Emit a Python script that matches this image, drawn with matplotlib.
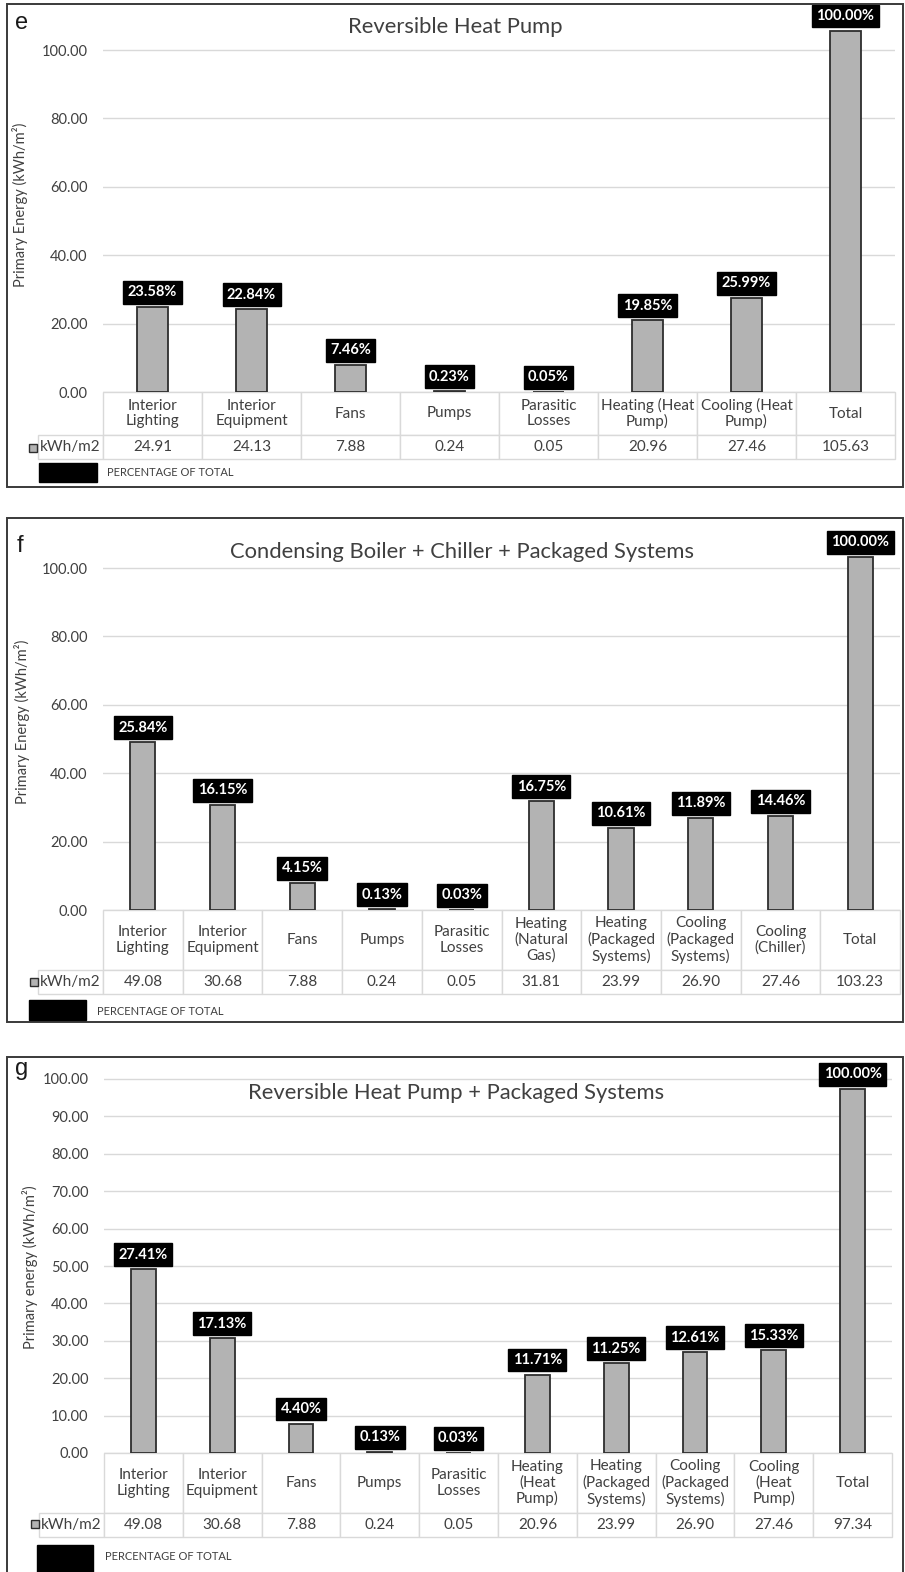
import matplotlib
matplotlib.use("Agg")
import matplotlib.pyplot as plt
from matplotlib.patches import Rectangle

plt.rcParams['font.family'] = ['Lato', 'DejaVu Sans']

# ---- data, panel e ----
e_title = "Reversible Heat Pump"
e_ylabel = "Primary Energy (kWh/m²)"
e_cats = ["Interior\nLighting", "Interior\nEquipment", "Fans", "Pumps", "Parasitic\nLosses",
          "Heating (Heat\nPump)", "Cooling (Heat\nPump)", "Total"]
e_vals = [24.91, 24.13, 7.88, 0.24, 0.05, 20.96, 27.46, 105.63]
e_pct = [23.58, 22.84, 7.46, 0.23, 0.05, 19.85, 25.99, 100.00]
e_ticks = [0, 20, 40, 60, 80, 100]

# ---- data, panel f ----
f_title = "Condensing Boiler + Chiller + Packaged Systems"
f_ylabel = "Primary Energy (kWh/m²)"
f_cats = ["Interior\nLighting", "Interior\nEquipment", "Fans", "Pumps", "Parasitic\nLosses",
          "Heating\n(Natural\nGas)", "Heating\n(Packaged\nSystems)", "Cooling\n(Packaged\nSystems)",
          "Cooling\n(Chiller)", "Total"]
f_vals = [49.08, 30.68, 7.88, 0.24, 0.05, 31.81, 23.99, 26.90, 27.46, 103.23]
f_pct = [25.84, 16.15, 4.15, 0.13, 0.03, 16.75, 10.61, 11.89, 14.46, 100.00]
f_ticks = [0, 20, 40, 60, 80, 100]

# ---- data, panel g ----
g_title = "Reversible Heat Pump + Packaged Systems"
g_ylabel = "Primary energy (kWh/m²)"
g_cats = ["Interior\nLighting", "Interior\nEquipment", "Fans", "Pumps", "Parasitic\nLosses",
          "Heating\n(Heat\nPump)", "Heating\n(Packaged\nSystems)", "Cooling\n(Packaged\nSystems)",
          "Cooling\n(Heat\nPump)", "Total"]
g_vals = [49.08, 30.68, 7.88, 0.24, 0.05, 20.96, 23.99, 26.90, 27.46, 97.34]
g_pct = [27.41, 17.13, 4.40, 0.13, 0.03, 11.71, 11.25, 12.61, 15.33, 100.00]
g_ticks = [0, 10, 20, 30, 40, 50, 60, 70, 80, 90, 100]

row_label = "kWh/m2"
legend_text = "PERCENTAGE OF TOTAL"

W, H = 905, 1572
fig = plt.figure(figsize=(W / 100, H / 100), dpi=100)

TXT = '#404040'
GRID = '#d9d9d9'


def fx(x):
    return x / W


def fy(y):
    return 1 - y / H


def frame(l, t, r, b):
    fig.add_artist(Rectangle((fx(l), fy(b)), fx(r - l), (b - t) / H, transform=fig.transFigure,
                             fill=False, ec='#3a3a3a', lw=1.4))


def panel(lay, letter, title, ylabel, cats, vals, pct, ticks):
    frame(*lay['frame'])
    y0, y100 = lay['y0'], lay['y100']
    sc = (y0 - y100) / 100.0
    top = y0 - lay['ymax'] * sc
    left, right = lay['x']
    ax = fig.add_axes([fx(left), fy(y0), fx(right - left), (y0 - top) / H])
    n = len(cats)
    x = list(range(n))
    ax.bar(x, vals, width=0.315, color='#b3b3b3', edgecolor='#2e2e2e', linewidth=1.3, zorder=3)
    ax.set_xlim(-0.5, n - 0.5)
    ax.set_ylim(0, lay['ymax'])
    ax.set_yticks(ticks)
    ax.set_yticklabels([f"{t:.2f}" for t in ticks])
    ax.tick_params(axis='y', length=0, pad=11, labelsize=10.5, labelcolor=TXT)
    ax.set_xticks([])
    ax.grid(axis='y', color=GRID, lw=1, zorder=0)
    for s in ax.spines.values():
        s.set_visible(False)

    for i, (v, p) in enumerate(zip(vals, pct)):
        ax.annotate(f"{p:.2f}%", xy=(i, v), xytext=(0, 5.5), textcoords='offset points',
                    ha='center', va='bottom', color='white', fontsize=10.5, fontweight='bold',
                    bbox=dict(boxstyle='square,pad=0.3', fc='black', ec='black'), zorder=5)

    # data table under the bars (bbox covers the data columns, row label hangs to the left)
    axh = y0 - top
    axw = right - left
    hh = lay['head'] / axh
    rh = lay['row'] / axh
    rlw = (left - lay['rl_left']) / axw
    tb = ax.table(cellText=[[f"{v:.2f}" for v in vals]], rowLabels=[row_label], colLabels=cats,
                  colWidths=[1.0 / n] * n, rowLoc='right', cellLoc='center', colLoc='center',
                  bbox=[0, -(hh + rh), 1, hh + rh])
    tb.auto_set_font_size(False)
    tb.set_fontsize(11)
    for (r, c), cell in tb.get_celld().items():
        cell.set_edgecolor(GRID)
        cell.set_linewidth(1)
        cell.get_text().set_color(TXT)
        if r == 0:
            cell.set_height(hh)
            cell.get_text().set_linespacing(1.12)
        else:
            cell.set_height(rh)
            cell.get_text().set_fontsize(11)
        if c == -1:
            cell.set_width(rlw)
            cell.PAD = 0.04

    # gray series swatch in the row label
    sx, sy = lay['swatch']
    fig.add_artist(Rectangle((fx(sx - 4), fy(sy + 4)), fx(8), 8 / H, transform=fig.transFigure,
                             fc='#b3b3b3', ec='#2e2e2e', lw=1))

    # legend for the percentage boxes
    bl, bt, br, bb = lay['legbox']
    fig.add_artist(Rectangle((fx(bl), fy(bb)), fx(br - bl), (bb - bt) / H, transform=fig.transFigure,
                             fc='black', ec='black'))
    fig.text(fx(lay['legtxt'][0]), fy(lay['legtxt'][1]), legend_text, fontsize=8, color=TXT,
             ha='left', va='center')

    fig.text(fx(lay['letter'][0]), fy(lay['letter'][1]), letter, fontsize=17, color='#1a1a1a',
             family='Liberation Sans', ha='center', va='baseline')
    fig.text(fx(lay['title'][0]), fy(lay['title'][1]), title, fontsize=15.8, color=TXT,
             ha='center', va='center')
    fig.text(fx(lay['ylab'][0]), fy(lay['ylab'][1]), ylabel, fontsize=10.5, color=TXT,
             rotation=90, ha='center', va='center')
    return ax


lay_e = dict(frame=(7, 4, 903, 487), y0=392, y100=50, ymax=110, x=(103, 895), head=43, row=24,
             rl_left=27, swatch=(33, 448), legbox=(39, 463, 97, 482), legtxt=(107, 472),
             letter=(22, 29), title=(455, 27), ylab=(20, 205))
lay_f = dict(frame=(7, 518, 903, 1022), y0=910, y100=568, ymax=110, x=(103, 900), head=60, row=24,
             rl_left=27, swatch=(34, 982), legbox=(29, 1000, 86, 1020), legtxt=(97, 1011),
             letter=(20, 552), title=(462, 552), ylab=(22, 722))
lay_g = dict(frame=(7, 1057, 903, 1600), y0=1453, y100=1079, ymax=104, x=(104, 892), head=60, row=24,
             rl_left=28, swatch=(35, 1524), legbox=(37, 1545, 93, 1580), legtxt=(105, 1557),
             letter=(22, 1075), title=(456, 1093), ylab=(30, 1267))

panel(lay_e, "e", e_title, e_ylabel, e_cats, e_vals, e_pct, e_ticks)
panel(lay_f, "f", f_title, f_ylabel, f_cats, f_vals, f_pct, f_ticks)
panel(lay_g, "g", g_title, g_ylabel, g_cats, g_vals, g_pct, g_ticks)

fig.savefig("out.png", dpi=100, facecolor='white')
